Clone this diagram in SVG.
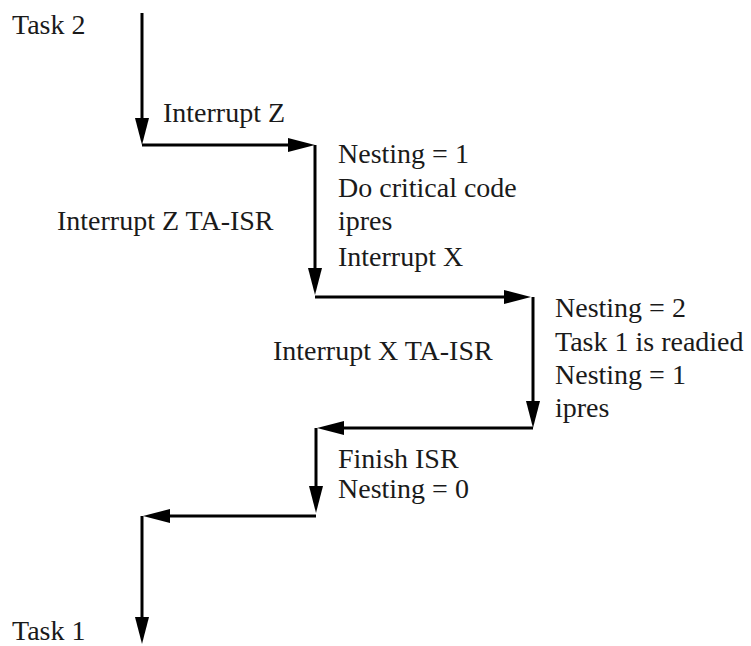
<svg xmlns="http://www.w3.org/2000/svg" width="751" height="646" viewBox="0 0 751 646">
<defs>
<style>
.c{stroke:#000;stroke-width:3;fill:none;marker-end:url(#ah)}
</style>
<marker id="ah" viewBox="0 0 27 14" refX="19" refY="7" markerWidth="27" markerHeight="14" markerUnits="userSpaceOnUse" orient="auto">
<path d="M0,0 L27,7 L0,14 z" fill="#000"/>
</marker>
</defs>
<rect width="751" height="646" fill="#fff"/>
<g id="connectors">
<path class="c" d="M142,13 V137"/>
<path class="c" d="M142,145 H307"/>
<path class="c" d="M315,145 V287"/>
<path class="c" d="M315,297 H523"/>
<path class="c" d="M533,297 V420"/>
<path class="c" d="M533,428 H325"/>
<path class="c" d="M316,428 V505"/>
<path class="c" d="M316,516 H151"/>
<path class="c" d="M142,516 V636"/>
</g>
<g font-family="'Liberation Serif', 'Times New Roman', 'DejaVu Serif', serif" font-size="28" fill="#1a1a1a">
<g id="task2"><text x="12" y="34">Task 2</text></g>
<g id="interruptZ"><text x="163" y="122">Interrupt Z</text></g>
<g id="isrZ-label"><text x="57" y="230">Interrupt Z TA-ISR</text></g>
<g id="isrZ-steps">
<text x="338" y="163">Nesting = 1</text>
<text x="338" y="197">Do critical code</text>
<text x="338" y="230">ipres</text>
<text x="338" y="266">Interrupt X</text>
</g>
<g id="isrX-label"><text x="273" y="360">Interrupt X TA-ISR</text></g>
<g id="isrX-steps">
<text x="555" y="317">Nesting = 2</text>
<text x="555" y="351">Task 1 is readied</text>
<text x="555" y="384">Nesting = 1</text>
<text x="555" y="417">ipres</text>
</g>
<g id="finish">
<text x="338" y="468">Finish ISR</text>
<text x="338" y="498">Nesting = 0</text>
</g>
<g id="task1"><text x="12" y="640">Task 1</text></g>
</g>
</svg>
